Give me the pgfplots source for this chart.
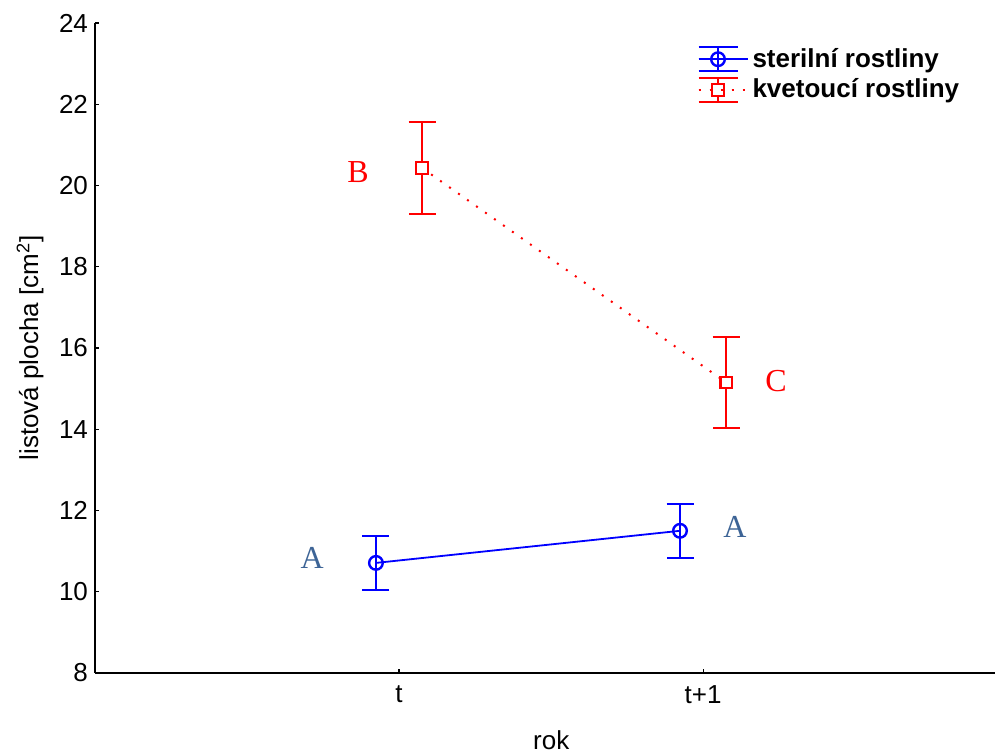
\documentclass[border=0pt]{standalone}
\usepackage{fontspec}
\setmainfont{Liberation Sans}
\newfontfamily\serifA{Liberation Serif}
\usepackage{pgfplots}
\pgfplotsset{compat=1.18}
\definecolor{myblue}{RGB}{0,0,255}
\definecolor{myred}{RGB}{255,0,0}
\definecolor{letterblue}{RGB}{61,100,150}
\pgfplotsset{
  errlegend/.style={legend image code/.code={
    \draw[##1, solid] (0pt,6pt) -- (19.5pt,6pt);
    \draw[##1, solid] (0pt,-6pt) -- (19.5pt,-6pt);
    \draw[##1, solid] (9.75pt,-6pt) -- (9.75pt,6pt);
    \draw[##1] (0pt,0pt) -- (19.5pt,0pt);
    \draw[##1] plot coordinates {(9.75pt,0pt)};
    \path (0pt,0pt) -- (24.5pt,0pt);
  }}
}
\begin{document}
\begin{tikzpicture}
\begin{axis}[
  scale only axis, width=450pt, height=325pt,
  xmin=-1, xmax=1.96, ymin=8, ymax=24,
  axis x line=bottom, axis y line=left,
  axis line style={-, line width=0.75pt},
  xtick={0,1}, xticklabels={t,t+1},
  ytick={8,10,...,24},
  tick align=inside, major tick length=2.2pt,
  tick style={black, line width=0.6pt},
  /pgf/number format/assume math mode=true,
  tick label style={font=\fontsize{13}{15}\selectfont},
  xticklabel style={yshift=-3pt},
  label style={font=\fontsize{13}{15}\selectfont},
  xlabel={rok}, ylabel={listová plocha [cm\textsuperscript{2}]},
  xlabel style={at={(axis description cs:0.507,-0.103)}, anchor=center},
  ylabel style={at={(axis description cs:-0.0722,0.5)}, anchor=center},
  legend style={at={(rel axis cs:0.669,0.968)}, anchor=north west, draw=none, fill=none,
    font=\bfseries\fontsize{13}{15}\selectfont, inner sep=0pt, row sep=0.3pt},
  legend cell align=left,
  clip=false,
]
\addplot[color=myblue, line width=0.9pt, mark=o, mark size=3.4pt,
  mark options={solid, fill=white, line width=1.2pt},
  errlegend,
  error bars/.cd, y dir=both, y explicit,
  error bar style={line width=1pt, solid},
  error mark options={rotate=90, mark size=6.75pt, line width=1pt}]
  table[x=x, y=y, y error=e] {
  x y e
  -0.076 10.71 0.67
  0.924 11.50 0.66
  };
\addlegendentry{sterilní rostliny}
\addplot[color=myred, line width=1pt, dash pattern=on 1pt off 4.5pt, mark=square*, mark size=2.9pt,
  mark options={solid, fill=white, draw=myred, line width=1.1pt},
  errlegend,
  error bars/.cd, y dir=both, y explicit,
  error bar style={line width=1pt, solid},
  error mark options={rotate=90, mark size=6.75pt, line width=1pt}]
  table[x=x, y=y, y error=e] {
  x y e
  0.076 20.43 1.13
  1.076 15.15 1.13
  };
\addlegendentry{kvetoucí rostliny}
\node[text=letterblue, font=\serifA\fontsize{16}{18}\selectfont] at (axis cs:-0.286,10.83) {A};
\node[text=letterblue, font=\serifA\fontsize{16}{18}\selectfont] at (axis cs:1.105,11.59) {A};
\node[text=myred, font=\serifA\fontsize{16}{18}\selectfont] at (axis cs:-0.135,20.33) {B};
\node[text=myred, font=\serifA\fontsize{16}{18}\selectfont] at (axis cs:1.24,15.19) {C};
\end{axis}
\pgfresetboundingbox
\path[use as bounding box] (-47.5pt,-40pt) rectangle (450pt,336.5pt);
\end{tikzpicture}
\end{document}
